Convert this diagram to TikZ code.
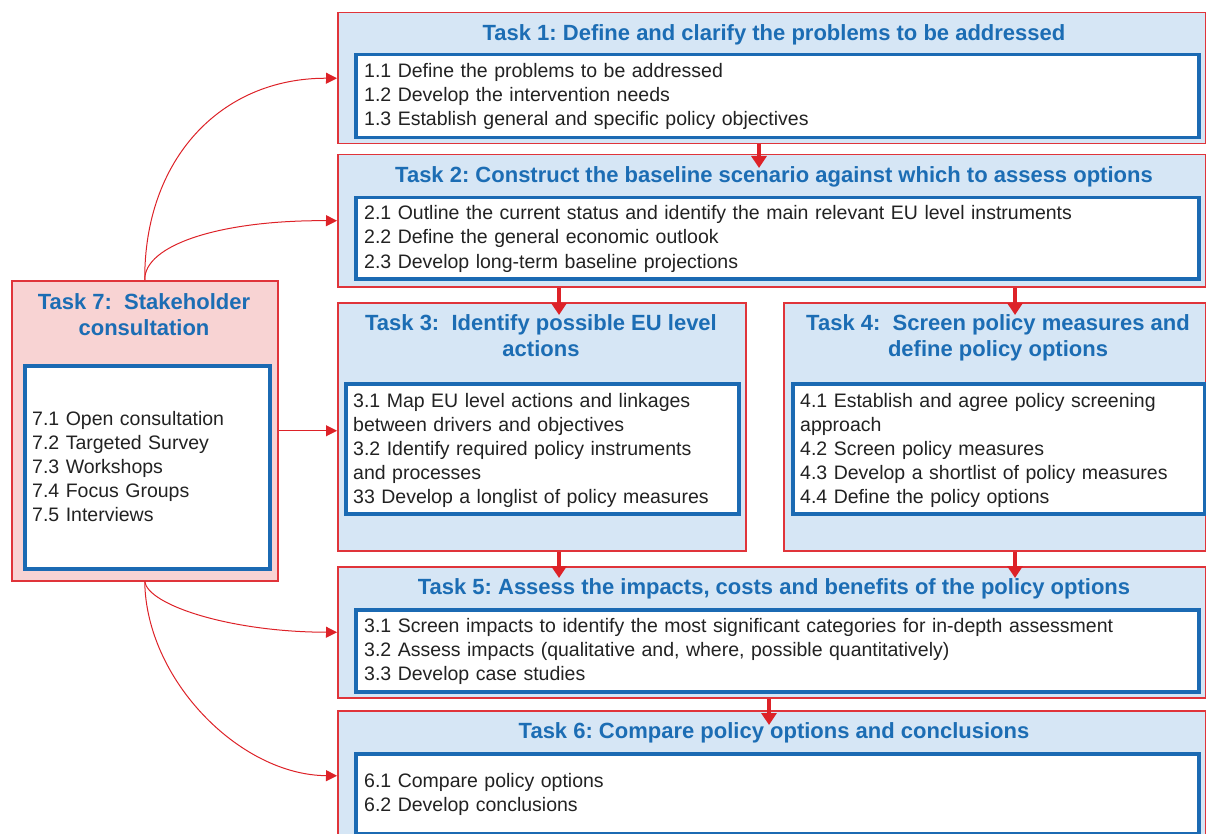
\documentclass[tikz,border=0pt]{standalone}
\usepackage{fontspec}
\setmainfont{Liberation Sans}
\usetikzlibrary{arrows.meta,calc}
\definecolor{boxblue}{HTML}{D6E6F5}
\definecolor{boxpink}{HTML}{F8D3D3}
\definecolor{bordred}{HTML}{E0343A}
\definecolor{arrred}{HTML}{DD2228}
\definecolor{titleblue}{HTML}{1C6DB4}
\definecolor{innerblue}{HTML}{1B6AB3}
\definecolor{bodytext}{HTML}{222222}
\frenchspacing
\begin{document}
\begin{tikzpicture}[x=1pt,y=-1pt,
  taskbox/.style={draw=bordred, line width=1.5pt, fill=boxblue, anchor=north west, inner sep=0pt},
  stakebox/.style={taskbox, fill=boxpink},
  listbox/.style={draw=innerblue, line width=3.5pt, fill=white, anchor=north west, inner sep=0pt},
  tasktitle/.style={font=\frenchspacing\bfseries\fontsize{22}{26}\selectfont, text=titleblue, align=center, anchor=base, inner sep=0pt},
  listtext/.style={font=\frenchspacing\fontsize{19.5}{24}\selectfont, text=bodytext, align=left, anchor=base west, inner sep=0pt},
  flow/.style={draw=arrred, line width=4pt, -{Triangle[length=12pt,width=15pt]}},
  link/.style={draw=arrred, line width=1pt, -{Triangle[length=11pt,width=11pt]}}
]
\useasboundingbox (0,0) rectangle (1206,834);

% Task 1
\node[taskbox, minimum width=868pt, minimum height=131pt] (t1) at (337,12) {};
\node[tasktitle] (t1title) at (774,40.5) {Task 1: Define and clarify the problems to be addressed};
\node[listbox, minimum width=843pt, minimum height=83pt] (t1list) at (354,53) {};
\node[listtext, text width=820pt] (t1text) at (364,77.5) {1.1 Define the problems to be addressed\\1.2 Develop the intervention needs\\1.3 Establish general and specific policy objectives};

% Task 2
\node[taskbox, minimum width=868pt, minimum height=132pt] (t2) at (337,154) {};
\node[tasktitle] (t2title) at (774,183) {Task 2: Construct the baseline scenario against which to assess options};
\node[listbox, minimum width=843pt, minimum height=81pt] (t2list) at (354,196) {};
\node[listtext, text width=820pt] (t2text) at (364,220) {2.1 Outline the current status and identify the main relevant EU level instruments\\2.2 Define the general economic outlook\\2.3 Develop long-term baseline projections};

% Task 3
\node[taskbox, minimum width=408pt, minimum height=248pt] (t3) at (337,302) {};
\node[tasktitle] (t3title) at (541,356) {Task 3:\ \ Identify possible EU level\\actions};
\node[listbox, minimum width=393pt, minimum height=130pt] (t3list) at (344,382) {};
\node[listtext, text width=380pt] (t3text) at (353,407) {3.1 Map EU level actions and linkages\\between drivers and objectives\\3.2 Identify required policy instruments\\and processes\\33 Develop a longlist of policy measures};

% Task 4
\node[taskbox, minimum width=422pt, minimum height=248pt] (t4) at (783,302) {};
\node[tasktitle] (t4title) at (998,356) {Task 4:\ \ Screen policy measures and\\define policy options};
\node[listbox, minimum width=412pt, minimum height=130pt] (t4list) at (791,382) {};
\node[listtext, text width=395pt] (t4text) at (800,407) {4.1 Establish and agree policy screening\\approach\\4.2 Screen policy measures\\4.3 Develop a shortlist of policy measures\\4.4 Define the policy options};

% Task 5
\node[taskbox, minimum width=868pt, minimum height=131pt] (t5) at (337,566) {};
\node[tasktitle] (t5title) at (774,594) {Task 5: Assess the impacts, costs and benefits of the policy options};
\node[listbox, minimum width=843pt, minimum height=82pt] (t5list) at (354,608) {};
\node[listtext, text width=820pt] (t5text) at (364,632) {3.1 Screen impacts to identify the most significant categories for in-depth assessment\\3.2 Assess impacts (qualitative and, where, possible quantitatively)\\3.3 Develop case studies};

% Task 6
\node[taskbox, minimum width=868pt, minimum height=130pt] (t6) at (337,710) {};
\node[tasktitle] (t6title) at (774,738) {Task 6: Compare policy options and conclusions};
\node[listbox, minimum width=843pt, minimum height=80pt] (t6list) at (354,752) {};
\node[listtext, text width=820pt] (t6text) at (364,787) {6.1 Compare policy options\\6.2 Develop conclusions};

% Task 7
\node[stakebox, minimum width=266pt, minimum height=300pt] (t7) at (11,280) {};
\node[tasktitle] (t7title) at (144,335) {Task 7:\ \ Stakeholder\\consultation};
\node[listbox, minimum width=245pt, minimum height=203pt] (t7list) at (23,364) {};
\node[listtext, text width=230pt] (t7text) at (32,425) {7.1 Open consultation\\7.2 Targeted Survey\\7.3 Workshops\\7.4 Focus Groups\\7.5 Interviews};

% flow arrows
\coordinate (xa) at (759,0);
\coordinate (xb) at (559,0);
\coordinate (xc) at (1015,0);
\coordinate (xd) at (769,0);
\draw[flow] (t1.south -| xa) -- ($(t2.north -| xa)+(0,14)$);
\draw[flow] (t2.south -| xb) -- ($(t3.north -| xb)+(0,13)$);
\draw[flow] (t2.south -| xc) -- ($(t4.north -| xc)+(0,13)$);
\draw[flow] (t3.south -| xb) -- ($(t5.north -| xb)+(0,12)$);
\draw[flow] (t4.south -| xc) -- ($(t5.north -| xc)+(0,12)$);
\draw[flow] (t5.south -| xd) -- ($(t6.north -| xd)+(0,15)$);

% stakeholder links
\draw[link] (t7.north) .. controls (144,160) and (220,78) .. (t1.west);
\draw[link] (t7.north) .. controls (144,245) and (220,220) .. (t2.west);
\draw[link] (t7.east) -- (t7.east -| t3.west);
\draw[link] (t7.south) .. controls (148,605) and (230,632) .. (t5.west);
\draw[link] (t7.south) .. controls (146,680) and (240,775) .. (t6.west);
\end{tikzpicture}
\end{document}
